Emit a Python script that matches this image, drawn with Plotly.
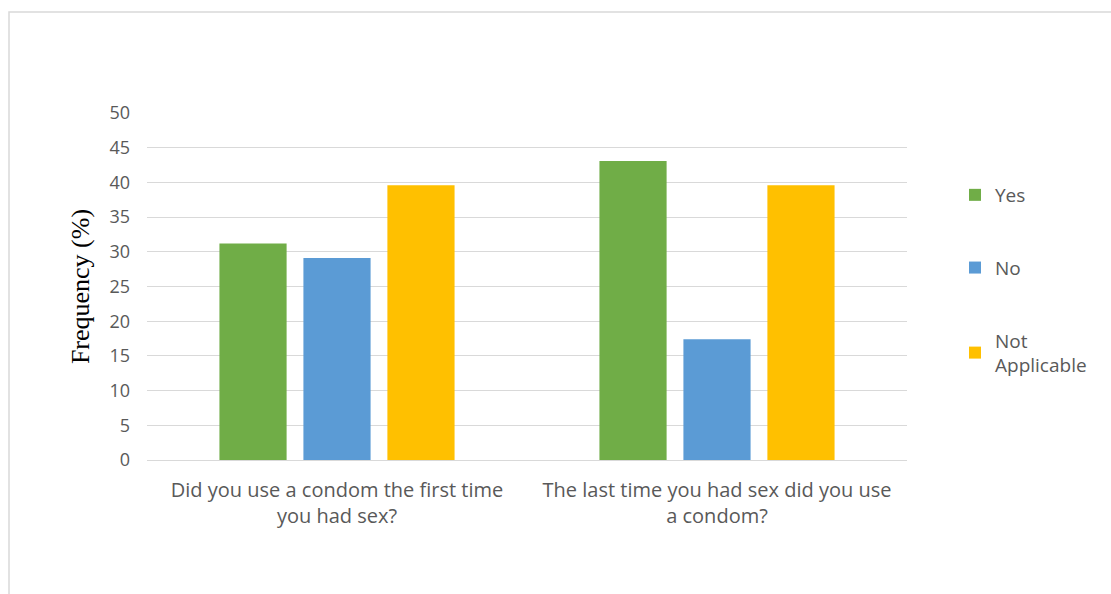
import plotly.graph_objects as go

categories = ["Did you use a condom the first time<br>you had sex?",
              "The last time you had sex did you use<br>a condom?"]
series_names = ["Yes", "No", "Not<br>Applicable"]
yes_vals = [31.2, 43.1]
no_vals = [29.1, 17.4]
na_vals = [39.6, 39.6]
colors = ["#70AD47", "#5B9BD5", "#FFC000"]
y_ticks = [0, 5, 10, 15, 20, 25, 30, 35, 40, 45, 50]

fig = go.Figure()
for i, (name, vals) in enumerate(zip(series_names, [yes_vals, no_vals, na_vals])):
    fig.add_trace(go.Bar(x=categories, y=vals, name=name, marker_color=colors[i],
                         marker_line_width=0, legendgroup=str(i)))

W, H = 1111, 594
L, R, T, B = 147, 204, 113, 134
pw, ph = W - L - R, H - T - B

def px(x):
    return (x - L) / pw

def py(y):
    return (H - B - y) / ph

fig.update_layout(
    width=W, height=H,
    margin=dict(l=L, r=R, t=T, b=B),
    paper_bgcolor="white", plot_bgcolor="white",
    barmode="group", bargap=0.337, bargroupgap=0.2,
    font=dict(family="Open Sans, sans-serif", color="#595959", size=16),
    showlegend=True,
    legend=dict(x=px(955), y=py(176), xanchor="left", yanchor="top",
                traceorder="grouped", tracegroupgap=45,
                font=dict(size=19, color="#595959"), itemwidth=30),
    xaxis=dict(showgrid=False, showline=True, linecolor="#d9d9d9", linewidth=1,
               ticks="", tickfont=dict(size=20, color="#595959"), ticklabelstandoff=12),
    yaxis=dict(range=[0, 50], tickvals=y_ticks, showgrid=True, gridcolor="#d9d9d9",
               gridwidth=1, zeroline=False, showline=False, ticks="",
               tickfont=dict(size=18, color="#595959"), ticklabelstandoff=16,
               title=dict(text="Frequency (%)", standoff=12,
                          font=dict(family="Liberation Serif, serif", size=26, color="#000000"))),
    shapes=[dict(type="rect", xref="paper", yref="paper",
                 x0=px(9), x1=px(1130), y0=py(12), y1=py(620),
                 line=dict(color="#d9d9d9", width=1.5), fillcolor="rgba(0,0,0,0)", layer="below")],
)

fig.write_html("out.html")
